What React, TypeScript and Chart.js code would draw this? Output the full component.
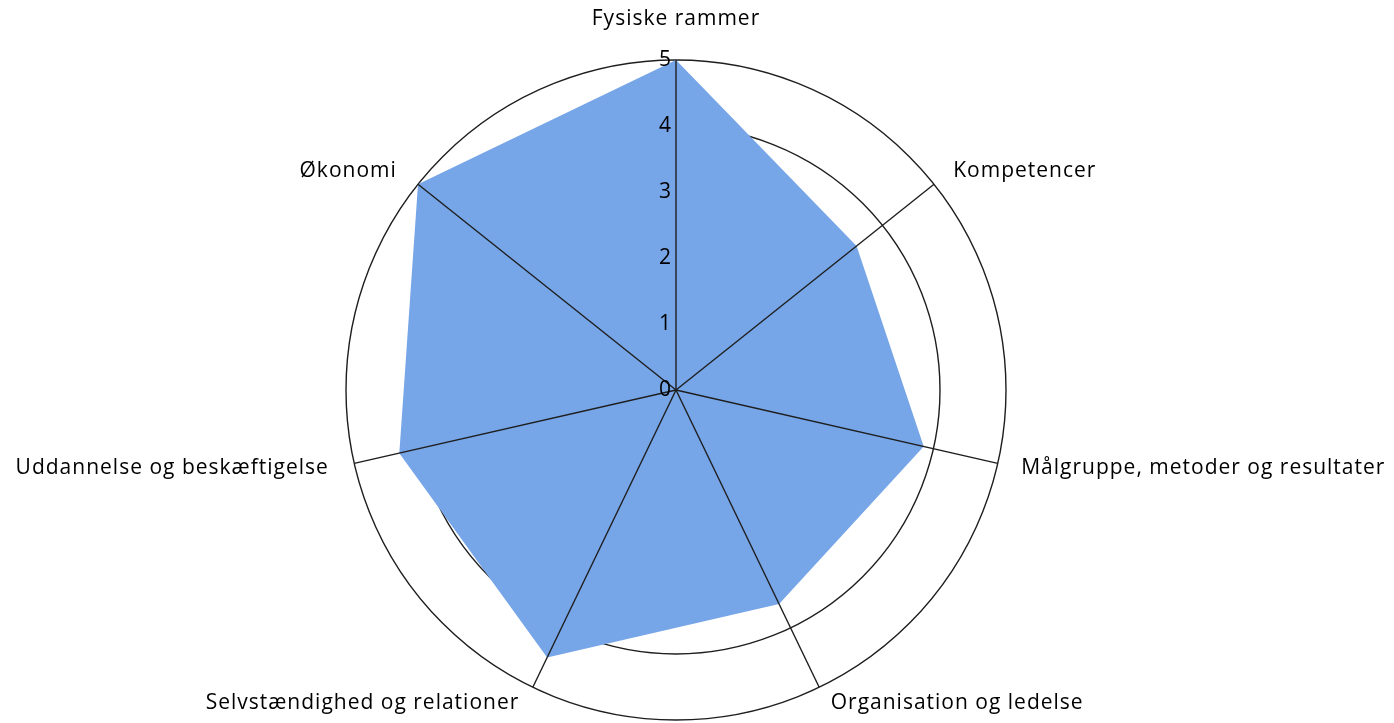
import React, { useEffect, useRef } from 'react';
import { Chart, registerables } from 'chart.js';

Chart.register(...registerables);

const categories = [
  'Fysiske rammer',
  'Kompetencer',
  'Målgruppe, metoder og resultater',
  'Organisation og ledelse',
  'Selvstændighed og relationer',
  'Uddannelse og beskæftigelse',
  'Økonomi',
];
const values = [5, 3.5, 3.85, 3.6, 4.5, 4.3, 5];
const tickLabels = ['0', '1', '2', '3', '4', '5'];

const FONT = '21px "Open Sans"';
const LINE = '#1e1e1e';

const overlay = {
  id: 'overlay',
  afterDatasetsDraw(chart: any) {
    const scale = chart.scales.r;
    const ctx = chart.ctx;
    ctx.save();
    ctx.strokeStyle = LINE;
    ctx.lineWidth = 1.4;
    categories.forEach((_, i) => {
      const p = scale.getPointPositionForValue(i, scale.max);
      ctx.beginPath();
      ctx.moveTo(scale.xCenter, scale.yCenter);
      ctx.lineTo(p.x, p.y);
      ctx.stroke();
    });
    ctx.font = FONT;
    ctx.fillStyle = '#000';
    ctx.textAlign = 'right';
    ctx.textBaseline = 'middle';
    tickLabels.forEach((t) => {
      const d = scale.getDistanceFromCenterForValue(Number(t));
      ctx.fillText(t, scale.xCenter - 5, scale.yCenter - d);
    });
    try {
      (ctx as any).letterSpacing = '1px';
    } catch (e) {}
    categories.forEach((c, i) => {
      const probe = scale.getPointPosition(i, scale.drawingArea);
      const dx = probe.x - scale.xCenter;
      const top = Math.abs(dx) < 1;
      const p = scale.getPointPosition(i, scale.drawingArea + (top ? 41 : 22));
      ctx.textAlign = top ? 'center' : dx > 0 ? 'left' : 'right';
      ctx.textBaseline = 'middle';
      const x = top ? p.x : dx > 0 ? p.x + 2 : p.x - 4;
      ctx.fillText(c, x, Math.min(p.y, 703));
    });
    ctx.restore();
  },
};

export default function App() {
  const ref = useRef<HTMLCanvasElement>(null);
  useEffect(() => {
    if (!ref.current) return;
    const chart = new Chart(ref.current, {
      type: 'radar',
      data: {
        labels: categories,
        datasets: [
          {
            data: values,
            backgroundColor: '#77A6E8',
            borderWidth: 0,
            pointRadius: 0,
            fill: true,
          },
        ],
      },
      options: {
        responsive: false,
        animation: false,
        layout: { padding: { left: 346, right: 388, top: 60, bottom: 3 } },
        plugins: { legend: { display: false }, tooltip: { enabled: false } },
        scales: {
          r: {
            min: 0,
            max: 5,
            ticks: { display: false, stepSize: 1 },
            pointLabels: { display: false },
            angleLines: { display: false },
            grid: { circular: true, color: LINE, lineWidth: 1.4 },
          },
        },
      },
      plugins: [overlay],
    });
    return () => chart.destroy();
  }, []);
  return (
    <div style={{ position: 'fixed', left: 0, top: 0, width: 1394, height: 723, background: '#fff' }}>
      <canvas ref={ref} width={1394} height={723} style={{ display: 'block' }} />
    </div>
  );
}
